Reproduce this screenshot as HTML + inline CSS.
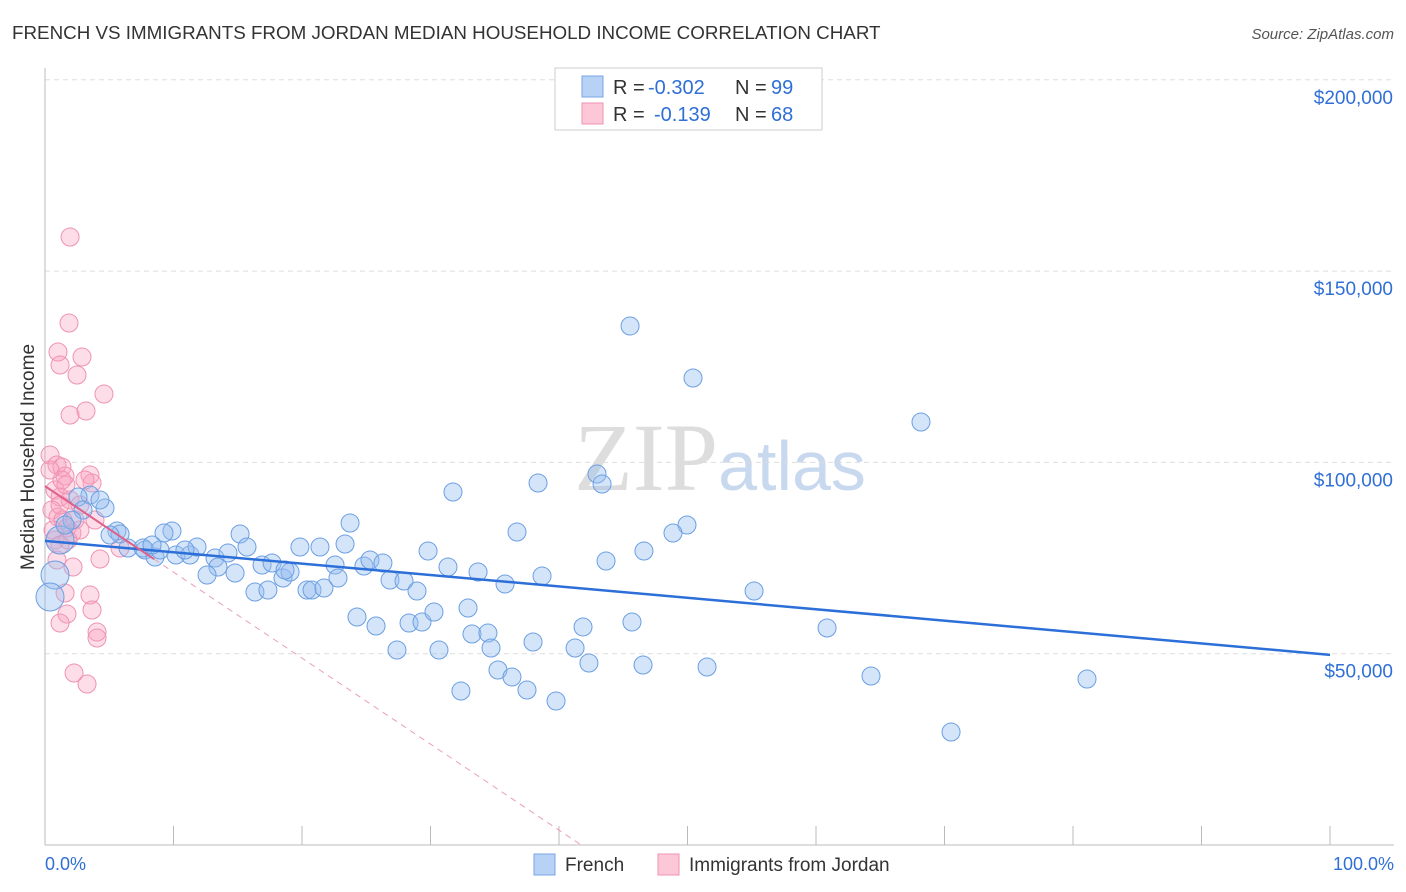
<!DOCTYPE html>
<html><head><meta charset="utf-8"><style>
body{margin:0;background:#fff;font-family:"Liberation Sans",sans-serif}
svg{display:block}
</style></head><body>
<svg id="c" width="1406" height="892">
<text x="12" y="39" font-size="18.8" fill="#333">FRENCH VS IMMIGRANTS FROM JORDAN MEDIAN HOUSEHOLD INCOME CORRELATION CHART</text>
<text x="1394" y="39" font-size="15" fill="#555" text-anchor="end" font-style="italic">Source: ZipAtlas.com</text>
<text x="34" y="457" font-size="19" fill="#333" text-anchor="middle" transform="rotate(-90 34 457)">Median Household Income</text>
<text x="720" y="490" font-size="96" fill="#ddd" text-anchor="middle" font-family="Liberation Serif">ZIP<tspan fill="#c8d8ee" font-family="Liberation Sans" font-size="70">atlas</tspan></text>
<g id="grid"></g><g id="pts"></g><g id="lines"></g>
<g font-size="20">
<rect x="555" y="68" width="267" height="62" fill="#fff" stroke="#ccc"/>
<rect x="582" y="76" width="21" height="21" fill="#b8d2f5" stroke="#7aa6e6"/>
<rect x="582" y="103" width="21" height="21" fill="#fcc8d7" stroke="#ef93b1"/>
<text x="613" y="94" fill="#333">R =</text><text x="648" y="94" fill="#2f6fd6">-0.302</text>
<text x="735" y="94" fill="#333">N =</text><text x="771" y="94" fill="#2f6fd6">99</text>
<text x="613" y="121" fill="#333">R =</text><text x="654" y="121" fill="#2f6fd6">-0.139</text>
<text x="735" y="121" fill="#333">N =</text><text x="771" y="121" fill="#2f6fd6">68</text>
</g>
<g>
<rect x="534" y="854" width="21" height="21" fill="#b8d2f5" stroke="#7aa6e6"/>
<text x="565" y="871" font-size="19" fill="#333">French</text>
<rect x="658" y="854" width="21" height="21" fill="#fcc8d7" stroke="#ef93b1"/>
<text x="689" y="871" font-size="19" fill="#333">Immigrants from Jordan</text>
</g>
<text x="45" y="870" font-size="18" fill="#2f6fd6">0.0%</text>
<text x="1394" y="870" font-size="18" fill="#2f6fd6" text-anchor="end">100.0%</text>
</svg>
<script>
const yTicks=[50000,100000,150000,200000];
const yTickLabels=["$50,000","$100,000","$150,000","$200,000"];
const frenchPx=[[630,326],[693,378],[921,422],[453,492],[538,483],[597,474],[602,484],[687,525],[673,533],[517,532],[350,523],[644,551],[606,561],[428,551],[345,544],[300,547],[320,547],[240,534],[247,547],[172,531],[164,533],[117,531],[120,534],[105,508],[90,495],[78,497],[100,500],[83,510],[60,540],[55,575],[50,597],[128,548],[145,550],[155,557],[160,550],[176,555],[190,555],[197,547],[215,558],[228,553],[218,567],[207,575],[235,573],[262,565],[272,563],[283,578],[290,572],[255,592],[268,590],[307,590],[312,590],[324,588],[335,565],[338,578],[364,566],[370,560],[383,563],[390,580],[404,581],[417,591],[448,567],[478,572],[505,584],[542,576],[357,617],[376,626],[397,650],[409,623],[422,622],[434,612],[439,650],[468,608],[472,634],[488,633],[491,648],[498,670],[512,677],[527,690],[533,642],[556,701],[575,648],[583,627],[589,663],[632,622],[643,665],[707,667],[754,591],[827,628],[871,676],[951,732],[1087,679],[461,691],[143,548],[72,520],[65,525],[152,545],[185,550],[110,535],[285,570]];
const jordanPx=[[70,237],[58,352],[69,323],[60,365],[82,357],[77,375],[104,394],[70,415],[86,411],[50,455],[57,465],[62,467],[65,476],[90,475],[92,483],[55,490],[60,497],[70,500],[52,510],[58,517],[63,520],[67,528],[72,533],[55,540],[60,545],[68,540],[100,559],[73,567],[90,595],[92,610],[65,593],[67,614],[60,623],[97,632],[97,638],[74,673],[87,684],[62,480],[75,520],[80,505],[53,530],[57,560],[85,480],[95,520],[120,548],[50,470],[66,485],[60,505],[80,530]];
const frenchX=frenchPx.map(p=>+((p[0]-45)/12.85).toFixed(2));
const frenchY=frenchPx.map(p=>Math.round((845-p[1])/0.003826));
const jordanX=jordanPx.map(p=>+((p[0]-45)/12.85).toFixed(2));
const jordanY=jordanPx.map(p=>Math.round((845-p[1])/0.003826));
const frenchTrend=[79500,49700];
const jordanTrend=[93800,-131000];
const X=v=>45+v*12.85, Y=v=>845-v*0.003826;
const ns="http://www.w3.org/2000/svg";
function mk(t,a,p){const e=document.createElementNS(ns,t);for(const k in a)e.setAttribute(k,a[k]);p.appendChild(e);return e;}
const grid=document.getElementById('grid');
yTicks.forEach((t,i)=>{
 const l=mk('line',{x1:45,x2:1394,y1:Y(t),y2:Y(t),stroke:'#ddd','stroke-dasharray':'5,4'},grid);
 
 
 const tx=mk('text',{x:1393,y:Y(t)+24,'font-size':19,fill:'#2f6fd6','text-anchor':'end'},grid);
 tx.textContent=yTickLabels[i];
 
 
});
mk('line',{x1:45,x2:45,y1:68,y2:845,stroke:'#bbb'},grid);
mk('line',{x1:45,x2:1394,y1:845,y2:845,stroke:'#bbb'},grid);
for(let i=1;i<=10;i++){const l=mk('line',{x1:X(i*10),x2:X(i*10),y1:826,y2:845,stroke:'#bbb'},grid);
 
 }
const pts=document.getElementById('pts');
jordanX.forEach((x,i)=>{const c=mk('circle',{cx:X(x),cy:Y(jordanY[i]),r:9,fill:'rgba(248,160,188,0.35)',stroke:'#ef93b1','stroke-width':1},pts);
 
 });
frenchX.forEach((x,i)=>{const c=mk('circle',{cx:X(x),cy:Y(frenchY[i]),r:(x<1.2?14:9),fill:'rgba(150,190,240,0.4)',stroke:'#6c9fe3','stroke-width':1},pts);
 
 });
const lines=document.getElementById('lines');
let l=mk('line',{x1:X(0),y1:Y(frenchTrend[0]),x2:X(100),y2:Y(frenchTrend[1]),stroke:'#2c6fd8','stroke-width':2.5},lines);


const jy=x=>jordanTrend[0]+(jordanTrend[1]-jordanTrend[0])*x/100;
l=mk('line',{x1:X(0),y1:Y(jy(0)),x2:X(8.5),y2:Y(jy(8.5)),stroke:'#e0608a','stroke-width':2},lines);


const xz=-jordanTrend[0]/(jordanTrend[1]-jordanTrend[0])*100;
l=mk('line',{x1:X(8.5),y1:Y(jy(8.5)),x2:X(xz),y2:Y(0),stroke:'#e8a0b8','stroke-width':1,'stroke-dasharray':'6,5'},lines);


</script>
</body></html>
